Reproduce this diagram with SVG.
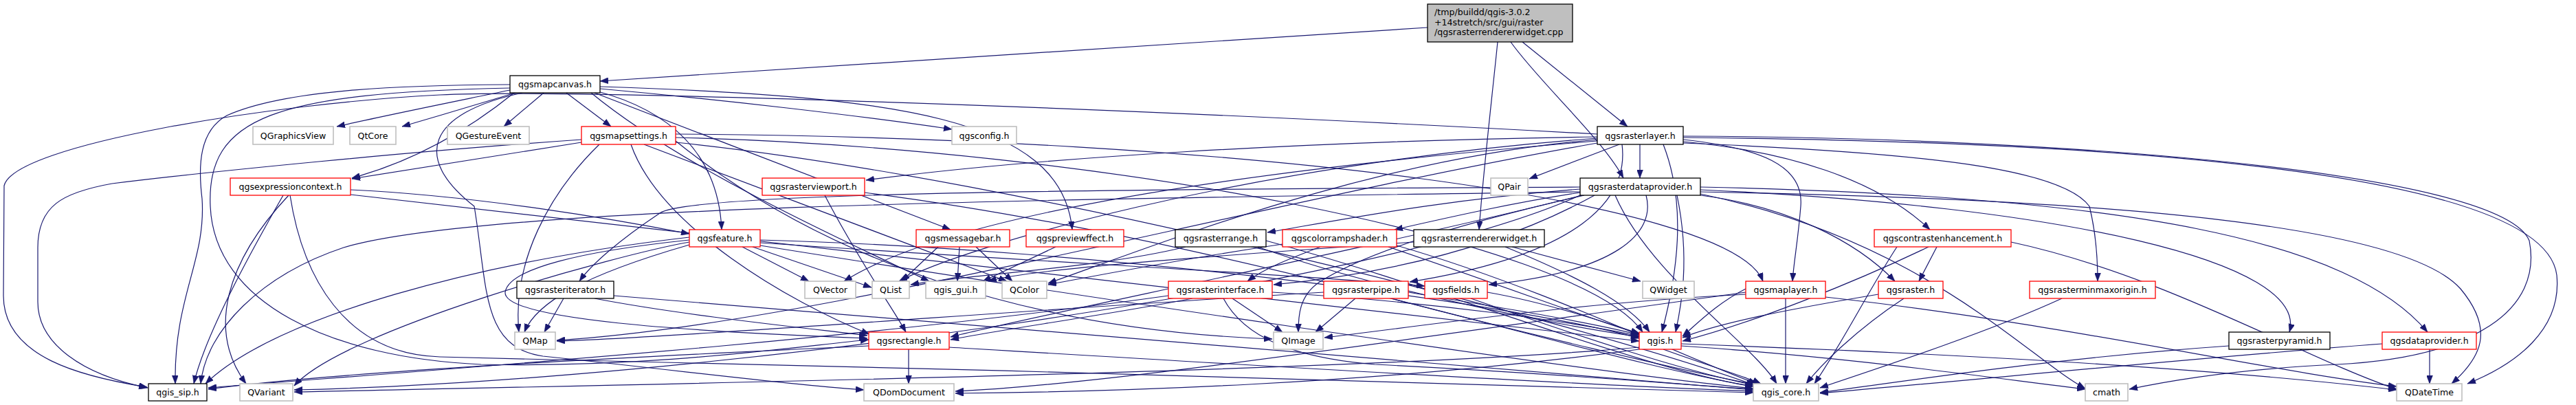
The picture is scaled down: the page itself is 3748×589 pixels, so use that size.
<svg xmlns="http://www.w3.org/2000/svg" width="3748" height="589" viewBox="0 0 3748 589">
<style>
rect{fill:#fff;stroke-width:1.3}
.r{stroke:#ff0000}
.k{stroke:#000}
.g{stroke:#bfbfbf;stroke-width:1.6}
.root{fill:#bfbfbf;stroke:#000}
text{font-family:"DejaVu Sans",sans-serif;font-size:12.6px;fill:#000;text-anchor:middle}
.l{text-anchor:start}
#edges path{fill:none;stroke:#191970;stroke-width:1.2;marker-end:url(#arr)}
</style>
<defs>
<marker id="arr" markerUnits="userSpaceOnUse" markerWidth="12" markerHeight="9" refX="12" refY="4.5" orient="auto">
<path d="M0,0 L12,4.5 L0,9 z" fill="#191970" stroke="#191970" stroke-width="0.5"/>
</marker>
</defs>
<rect x="0" y="0" width="3748" height="589" style="fill:#fff;stroke:none"/>
<g id="edges">
<path d="M2077,40 L873,118"/>
<path d="M2179,61 C2170,150 2158,250 2152,334"/>
<path d="M2198,61 C2240,120 2330,200 2362,259"/>
<path d="M2215,61 L2368,184"/>
<path d="M742,131 C650,150 560,168 490,184"/>
<path d="M750,135 C700,150 640,168 585,184"/>
<path d="M791,135 L733,184"/>
<path d="M824,135 L889,184"/>
<path d="M873,129 C1050,145 1250,168 1385,188"/>
<path d="M748,135 C680,190 600,235 512,259"/>
<path d="M870,133 C970,160 1045,220 1050,334"/>
<path d="M865,135 L1383,334"/>
<path d="M873,126 C1300,140 1545,170 1560,334"/>
<path d="M742,123 C600,124 420,128 330,168 C290,190 288,240 294,289 C300,380 253,430 255,558"/>
<path d="M860,135 C1000,250 1250,360 1352,409"/>
<path d="M742,128 C400,135 300,170 306,300 C312,440 480,520 700,530 C950,535 1150,505 1264,494"/>
<path d="M760,135 C620,165 600,230 690,300 C710,420 700,505 790,518 C1000,540 1150,560 1257,567"/>
<path d="M846,207 L512,260"/>
<path d="M846,203 C600,220 300,250 163,267 C90,280 55,300 55,360 L55,439 C55,500 120,545 215,564"/>
<path d="M872,210 C800,280 745,380 755,483"/>
<path d="M918,210 C960,330 1150,440 1265,486"/>
<path d="M983,200 C1600,215 2300,350 2390,483"/>
<path d="M937,210 L1465,409"/>
<path d="M983,195 C1800,200 2520,290 2565,409"/>
<path d="M983,207 C1500,260 2300,470 2553,560"/>
<path d="M983,205 C1200,380 1500,480 1851,493"/>
<path d="M412,284 C380,340 300,480 282,558"/>
<path d="M420,284 C330,380 300,480 358,558"/>
<path d="M422,284 C440,400 500,515 640,519 C1200,530 2200,560 2551,571"/>
<path d="M510,276 C700,285 900,320 1003,340"/>
<path d="M510,283 L2385,496"/>
<path d="M2386,210 L2386,259"/>
<path d="M2356,210 L2225,260"/>
<path d="M2324,199 C1900,205 1500,230 1260,262"/>
<path d="M2324,195 C1500,150 800,130 640,138 C400,150 20,210 6,270 L5,430 C5,520 120,548 214,563"/>
<path d="M2449,203 C2560,215 2625,240 2620,300 C2616,350 2610,380 2608,409"/>
<path d="M2449,206 C2600,220 2730,260 2808,334"/>
<path d="M2449,208 C2800,222 3000,245 3040,300 C3050,340 3052,380 3052,409"/>
<path d="M2449,200 C3000,205 3700,240 3720,400 C3728,480 3660,530 3590,558"/>
<path d="M2449,198 C3000,200 3640,250 3680,350 C3700,450 3600,520 3400,530 C3250,537 3150,555 3098,566"/>
<path d="M2324,203 C2000,230 1700,350 1525,412"/>
<path d="M2324,205 C1900,240 1400,300 1228,409"/>
<path d="M2324,208 C1800,300 1200,470 810,495"/>
<path d="M2324,201 C1800,240 1400,360 1308,409"/>
<path d="M2360,210 C2370,290 2300,370 2051,410"/>
<path d="M2420,210 C2455,300 2440,400 2418,483"/>
<path d="M2299,275 C2100,290 1950,320 1844,338"/>
<path d="M2299,280 C2200,295 2100,318 2029,334"/>
<path d="M2299,272 C1600,275 1000,280 960,310 C900,350 860,385 843,409"/>
<path d="M2320,284 C2200,350 2050,395 1853,414"/>
<path d="M2395,284 C2410,340 2350,395 2166,414"/>
<path d="M2305,284 C2150,320 2000,360 1920,410 C1890,430 1889,460 1889,483"/>
<path d="M2440,284 C2460,380 2445,450 2438,483"/>
<path d="M2350,284 C2400,400 2550,500 2585,558"/>
<path d="M2299,279 C1500,290 700,300 500,360 C380,400 300,480 292,558"/>
<path d="M2299,284 C2000,420 1000,555 428,567"/>
<path d="M2474,282 C2800,350 2950,520 3034,565"/>
<path d="M2474,279 C3100,290 3500,330 3580,420 C3630,480 3610,520 3567,558"/>
<path d="M2474,276 C3000,300 3360,380 3331,483"/>
<path d="M2474,272 C3100,285 3420,350 3532,483"/>
<path d="M2302,284 C2000,360 1500,460 1383,490"/>
<path d="M2474,284 C2600,300 2700,350 2757,409"/>
<path d="M1080,359 L1177,409"/>
<path d="M1095,359 L1268,418"/>
<path d="M1106,349 C1600,362 2200,440 2385,492"/>
<path d="M1106,353 C1500,380 1900,400 2073,416"/>
<path d="M1003,349 C850,365 740,390 735,425 C732,465 1000,482 1262,492"/>
<path d="M1003,352 C900,370 500,480 428,561"/>
<path d="M1003,356 C850,400 780,440 763,483"/>
<path d="M1106,357 C1500,420 2300,540 2551,565"/>
<path d="M1003,345 C700,380 400,460 299,558"/>
<path d="M1365,359 L1312,409"/>
<path d="M1396,359 L1393,409"/>
<path d="M1420,359 L1473,409"/>
<path d="M1536,359 L1430,409"/>
<path d="M1842,350 C2100,420 2400,540 2551,562"/>
<path d="M1830,359 C2000,420 2250,470 2385,490"/>
<path d="M1725,359 C1600,390 1400,400 1325,414"/>
<path d="M1866,355 C1700,380 1600,400 1525,414"/>
<path d="M1921,359 C1880,375 1840,390 1815,409"/>
<path d="M2032,357 C2250,420 2450,520 2556,558"/>
<path d="M2020,359 C2200,420 2330,470 2387,486"/>
<path d="M2200,359 L2387,409"/>
<path d="M2190,359 C2290,400 2370,440 2400,483"/>
<path d="M2057,352 C1800,370 1500,390 1438,409"/>
<path d="M2818,359 L2792,409"/>
<path d="M2806,359 C2700,410 2550,470 2448,496"/>
<path d="M2760,359 C2720,420 2680,500 2640,558"/>
<path d="M2926,352 C3150,400 3350,520 3487,566"/>
<path d="M820,434 L792,483"/>
<path d="M893,430 C1500,480 2300,545 2551,567"/>
<path d="M865,434 C1000,460 1200,480 1262,488"/>
<path d="M1793,434 L1866,483"/>
<path d="M1780,434 C1810,490 1880,520 2000,530 C2300,545 2450,560 2551,566"/>
<path d="M1851,425 C2100,440 2300,470 2385,489"/>
<path d="M1735,434 C1600,460 1450,480 1383,494"/>
<path d="M1700,430 C1200,500 600,540 303,564"/>
<path d="M1972,434 L1914,483"/>
<path d="M2049,425 C2200,450 2320,470 2385,487"/>
<path d="M2024,434 C2200,480 2450,540 2553,559"/>
<path d="M1926,425 C1500,450 1000,490 810,496"/>
<path d="M2140,434 C2300,490 2450,540 2553,560"/>
<path d="M2164,425 C2250,440 2340,470 2385,485"/>
<path d="M2598,434 L2598,558"/>
<path d="M2540,420 C2500,440 2470,470 2448,489"/>
<path d="M2540,428 C2300,440 2100,470 1927,491"/>
<path d="M2540,425 C2000,500 1600,560 1390,569"/>
<path d="M2656,432 C3000,470 3300,540 3487,562"/>
<path d="M2770,434 C2700,480 2650,530 2628,558"/>
<path d="M2733,428 C2600,450 2500,470 2448,491"/>
<path d="M3000,434 C2900,480 2750,530 2648,564"/>
<path d="M1322,508 L1322,558"/>
<path d="M1264,503 C900,520 500,540 303,566"/>
<path d="M1381,505 C1800,530 2300,560 2551,569"/>
<path d="M3243,503 C3000,520 2800,550 2648,571"/>
<path d="M3535,508 L3535,558"/>
<path d="M3466,500 C3200,520 2900,550 2648,572"/>
<path d="M2420,508 C2480,530 2540,548 2562,558"/>
<path d="M2446,503 C2700,520 2900,550 3034,566"/>
<path d="M2385,505 C2000,540 900,560 428,570"/>
<path d="M2446,500 C3000,520 3300,545 3487,567"/>
<path d="M2385,508 C2000,560 1600,570 1390,572"/>
<path d="M1200,284 C1250,380 1300,450 1318,483"/>
<path d="M1258,280 C1800,350 2300,520 2551,562"/>
</g>
<g id="node-root"><rect class="root" x="2077" y="6" width="211" height="55"/>
<text class="l" x="2087" y="22">/tmp/buildd/qgis-3.0.2</text>
<text class="l" x="2087" y="36.5">+14stretch/src/gui/raster</text>
<text class="l" x="2087" y="51">/qgsrasterrendererwidget.cpp</text></g>
<g id="node-qgsmapcanvas"><rect class="k" x="742" y="110" width="131" height="25"/><text x="807.5" y="127">qgsmapcanvas.h</text></g>
<g id="node-QGraphicsView"><rect class="g" x="368" y="184" width="117" height="26"/><text x="426.5" y="202">QGraphicsView</text></g>
<g id="node-QtCore"><rect class="g" x="509" y="184" width="67" height="26"/><text x="542.5" y="202">QtCore</text></g>
<g id="node-QGestureEvent"><rect class="g" x="651" y="184" width="119" height="26"/><text x="710.5" y="202">QGestureEvent</text></g>
<g id="node-qgsmapsettings"><rect class="r" x="846" y="184" width="137" height="26"/><text x="914.5" y="202">qgsmapsettings.h</text></g>
<g id="node-qgsconfig"><rect class="g" x="1385" y="184" width="94" height="26"/><text x="1432" y="202">qgsconfig.h</text></g>
<g id="node-qgsrasterlayer"><rect class="k" x="2324" y="184" width="125" height="26"/><text x="2386.5" y="202">qgsrasterlayer.h</text></g>
<g id="node-qgsexpressioncontext"><rect class="r" x="335" y="259" width="175" height="25"/><text x="422.5" y="276">qgsexpressioncontext.h</text></g>
<g id="node-qgsrasterviewport"><rect class="r" x="1109" y="259" width="149" height="25"/><text x="1183.5" y="276">qgsrasterviewport.h</text></g>
<g id="node-QPair"><rect class="g" x="2169" y="259" width="54" height="25"/><text x="2196" y="276">QPair</text></g>
<g id="node-qgsrasterdataprovider"><rect class="k" x="2299" y="259" width="175" height="25"/><text x="2386.5" y="276">qgsrasterdataprovider.h</text></g>
<g id="node-qgsfeature"><rect class="r" x="1003" y="334" width="103" height="25"/><text x="1054.5" y="351">qgsfeature.h</text></g>
<g id="node-qgsmessagebar"><rect class="r" x="1333" y="334" width="136" height="25"/><text x="1401" y="351">qgsmessagebar.h</text></g>
<g id="node-qgspreviewffect"><rect class="r" x="1493" y="334" width="142" height="25"/><text x="1564" y="351">qgspreviewffect.h</text></g>
<g id="node-qgsrasterrange"><rect class="k" x="1710" y="334" width="132" height="25"/><text x="1776" y="351">qgsrasterrange.h</text></g>
<g id="node-qgscolorrampshader"><rect class="r" x="1866" y="334" width="166" height="25"/><text x="1949" y="351">qgscolorrampshader.h</text></g>
<g id="node-qgsrasterrendererwidget"><rect class="k" x="2057" y="334" width="190" height="25"/><text x="2152" y="351">qgsrasterrendererwidget.h</text></g>
<g id="node-qgscontrastenhancement"><rect class="r" x="2727" y="334" width="199" height="25"/><text x="2826.5" y="351">qgscontrastenhancement.h</text></g>
<g id="node-qgsrasteriterator"><rect class="k" x="752" y="409" width="141" height="25"/><text x="822.5" y="426">qgsrasteriterator.h</text></g>
<g id="node-QVector"><rect class="g" x="1171" y="409" width="74" height="25"/><text x="1208" y="426">QVector</text></g>
<g id="node-QList"><rect class="g" x="1269" y="409" width="54" height="25"/><text x="1296" y="426">QList</text></g>
<g id="node-qgis_gui"><rect class="g" x="1347" y="409" width="87" height="25"/><text x="1390.5" y="426">qgis_gui.h</text></g>
<g id="node-QColor"><rect class="g" x="1458" y="409" width="65" height="25"/><text x="1490.5" y="426">QColor</text></g>
<g id="node-qgsrasterinterface"><rect class="r" x="1700" y="409" width="151" height="25"/><text x="1775.5" y="426">qgsrasterinterface.h</text></g>
<g id="node-qgsrasterpipe"><rect class="r" x="1926" y="409" width="123" height="25"/><text x="1987.5" y="426">qgsrasterpipe.h</text></g>
<g id="node-qgsfields"><rect class="r" x="2073" y="409" width="91" height="25"/><text x="2118.5" y="426">qgsfields.h</text></g>
<g id="node-QWidget"><rect class="g" x="2390" y="409" width="75" height="25"/><text x="2427.5" y="426">QWidget</text></g>
<g id="node-qgsmaplayer"><rect class="r" x="2540" y="409" width="116" height="25"/><text x="2598" y="426">qgsmaplayer.h</text></g>
<g id="node-qgsraster"><rect class="r" x="2733" y="409" width="94" height="25"/><text x="2780" y="426">qgsraster.h</text></g>
<g id="node-qgsrasterminmaxorigin"><rect class="r" x="2953" y="409" width="183" height="25"/><text x="3044.5" y="426">qgsrasterminmaxorigin.h</text></g>
<g id="node-QMap"><rect class="g" x="749" y="483" width="59" height="25"/><text x="778.5" y="500">QMap</text></g>
<g id="node-qgsrectangle"><rect class="r" x="1264" y="483" width="117" height="25"/><text x="1322.5" y="500">qgsrectangle.h</text></g>
<g id="node-QImage"><rect class="g" x="1853" y="483" width="72" height="25"/><text x="1889" y="500">QImage</text></g>
<g id="node-qgis"><rect class="r" x="2385" y="483" width="61" height="25"/><text x="2415.5" y="500">qgis.h</text></g>
<g id="node-qgsrasterpyramid"><rect class="k" x="3243" y="483" width="147" height="25"/><text x="3316.5" y="500">qgsrasterpyramid.h</text></g>
<g id="node-qgsdataprovider"><rect class="r" x="3466" y="483" width="137" height="25"/><text x="3534.5" y="500">qgsdataprovider.h</text></g>
<g id="node-qgis_sip"><rect class="k" x="216" y="558" width="85" height="25"/><text x="258.5" y="575">qgis_sip.h</text></g>
<g id="node-QVariant"><rect class="g" x="349" y="558" width="77" height="25"/><text x="387.5" y="575">QVariant</text></g>
<g id="node-QDomDocument"><rect class="g" x="1257" y="558" width="131" height="25"/><text x="1322.5" y="575">QDomDocument</text></g>
<g id="node-qgis_core"><rect class="g" x="2551" y="558" width="95" height="25"/><text x="2598.5" y="575">qgis_core.h</text></g>
<g id="node-cmath"><rect class="g" x="3034" y="558" width="62" height="25"/><text x="3065" y="575">cmath</text></g>
<g id="node-QDateTime"><rect class="g" x="3487" y="558" width="95" height="25"/><text x="3534.5" y="575">QDateTime</text></g>
</svg>
